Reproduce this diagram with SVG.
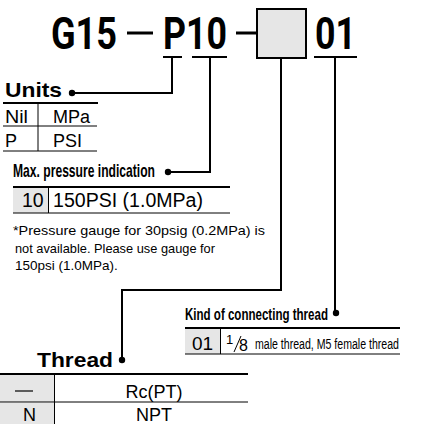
<svg xmlns="http://www.w3.org/2000/svg" width="436" height="424" viewBox="0 0 436 424">
<style>
.t{font-family:"Liberation Sans",Arial,sans-serif;fill:#000}
.b{font-weight:bold}
.big{font-family:Roboto,"Liberation Sans",sans-serif;font-weight:bold;font-size:44px}
.ln{stroke:#000;fill:none;stroke-width:2}
.thin{stroke:#000;fill:none;stroke-width:1}
.gray{fill:#e6e6e6}
</style>
<rect width="436" height="424" fill="#fff"/>
<g id="title">
<text class="big" x="51" y="49" textLength="66" lengthAdjust="spacingAndGlyphs">G15</text>
<line x1="127" y1="33" x2="153" y2="33" stroke="#000" stroke-width="3"/>
<text class="big" x="163" y="49" textLength="64" lengthAdjust="spacingAndGlyphs">P10</text>
<line x1="236" y1="33" x2="256" y2="33" stroke="#000" stroke-width="3"/>
<rect x="257" y="9" width="49" height="49" fill="#e6e6e6" stroke="#000" stroke-width="2"/>
<text class="big" x="315" y="49" textLength="41" lengthAdjust="spacingAndGlyphs">01</text>
<line x1="163" y1="57" x2="182" y2="57" class="ln"/>
<line x1="192" y1="57" x2="227" y2="57" class="ln"/>
<line x1="314" y1="57" x2="357" y2="57" class="ln"/>
</g>
<g id="connectors">
<polyline class="ln" points="172,57 172,93 72,93"/>
<circle cx="72" cy="93" r="3.2"/>
<polyline class="ln" points="210,57 210,172 168,172"/>
<circle cx="168" cy="172" r="3.2"/>
<polyline class="ln" points="281,58 281,290 122,290 122,360"/>
<circle cx="122" cy="360" r="3.2"/>
<polyline class="ln" points="335,57 335,313"/>
<circle cx="336" cy="313" r="3.2"/>
</g>
<g id="units">
<text class="t b" x="5" y="97" font-size="21" textLength="57" lengthAdjust="spacingAndGlyphs">Units</text>
<line x1="3" y1="103" x2="98" y2="103" class="ln"/>
<line x1="38" y1="103" x2="38" y2="151" class="thin"/>
<text class="t" x="5" y="123" font-size="18" textLength="23" lengthAdjust="spacingAndGlyphs">Nil</text>
<text class="t" x="53" y="123" font-size="18">MPa</text>
<line x1="3" y1="126" x2="97" y2="126" class="thin"/>
<text class="t" x="5" y="147" font-size="18">P</text>
<text class="t" x="53" y="147" font-size="18">PSI</text>
<line x1="3" y1="151" x2="97" y2="151" class="thin"/>
</g>
<g id="maxpressure">
<text class="t b" x="13" y="177" font-size="18.5" textLength="142" lengthAdjust="spacingAndGlyphs">Max. pressure indication</text>
<line x1="13" y1="187" x2="230" y2="187" class="ln"/>
<rect class="gray" x="13" y="188" width="35" height="25"/>
<line x1="48.5" y1="188" x2="48.5" y2="213" class="thin"/>
<text class="t" x="22" y="207" font-size="19.5">10</text>
<text class="t" x="53" y="207" font-size="19.5" textLength="150" lengthAdjust="spacingAndGlyphs">150PSI (1.0MPa)</text>
<line x1="13" y1="213" x2="230" y2="213" class="thin"/>
<text class="t" x="13" y="235" font-size="13.5" textLength="252" lengthAdjust="spacingAndGlyphs">*Pressure gauge for 30psig (0.2MPa) is</text>
<text class="t" x="15" y="253" font-size="13.5" textLength="200" lengthAdjust="spacingAndGlyphs">not available. Please use gauge for</text>
<text class="t" x="15" y="270" font-size="13.5">150psi (1.0MPa).</text>
</g>
<g id="kind">
<text class="t b" x="185" y="320" font-size="17" textLength="143" lengthAdjust="spacingAndGlyphs">Kind of connecting thread</text>
<line x1="185" y1="328" x2="400" y2="328" class="ln"/>
<rect class="gray" x="185" y="329" width="35" height="25"/>
<line x1="220.5" y1="329" x2="220.5" y2="354" class="thin"/>
<text class="t" x="192" y="350" font-size="19">01</text>
<text class="t" x="226" y="344" font-size="13">1</text>
<line x1="234" y1="352" x2="241" y2="336" class="thin"/>
<text class="t" x="239" y="351" font-size="16">8</text>
<text class="t" x="255" y="349" font-size="15.5" textLength="144" lengthAdjust="spacingAndGlyphs">male thread, M5 female thread</text>
<line x1="185" y1="354" x2="400" y2="354" class="thin"/>
</g>
<g id="thread">
<text class="t b" x="37" y="367" font-size="21" textLength="76" lengthAdjust="spacingAndGlyphs">Thread</text>
<line x1="0" y1="374" x2="248" y2="374" class="ln"/>
<rect class="gray" x="0" y="375" width="54" height="27"/>
<rect class="gray" x="0" y="403" width="54" height="21"/>
<line x1="54.5" y1="375" x2="54.5" y2="424" class="thin"/>
<line x1="0" y1="402" x2="248" y2="402" class="thin"/>
<line x1="15" y1="391" x2="33" y2="391" stroke="#000" stroke-width="1.2"/>
<text class="t" x="154" y="398" font-size="18" text-anchor="middle">Rc(PT)</text>
<text class="t" x="23" y="421" font-size="18">N</text>
<text class="t" x="154" y="421" font-size="18" text-anchor="middle">NPT</text>
</g>
</svg>
